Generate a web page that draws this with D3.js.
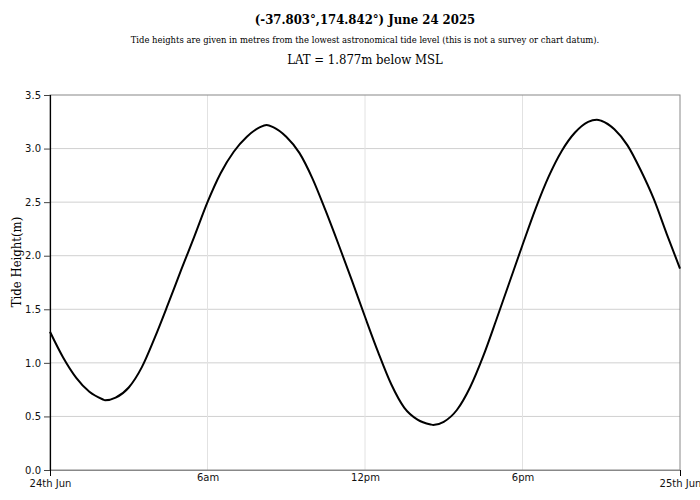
<!DOCTYPE html>
<html>
<head>
<meta charset="utf-8">
<script src="https://cdn.jsdelivr.net/npm/d3@7"></script>
<style>
  body { margin: 0; background: #fff; }
  svg { display: block; }
  .serif { font-family: 'DejaVu Serif Condensed', 'DejaVu Serif', serif; font-stretch: condensed; }
</style>
</head>
<body>
<svg id="chart"></svg>
<script>
const titleText = "(-37.803°,174.842°) June 24 2025";
const subtitleText = "Tide heights are given in metres from the lowest astronomical tide level (this is not a survey or chart datum).";
const latText = "LAT = 1.877m below MSL";

// hours after midnight, 24 June 2025
const hours = [
    0, 0.5, 1, 1.5, 2, 2.1, 2.5, 3, 3.5, 4, 4.5, 5, 5.5, 6, 6.5, 7, 7.5, 8, 8.25,
    8.5, 9, 9.5, 10, 10.5, 11, 11.5, 12, 12.5, 13, 13.5, 14, 14.5, 14.6,
    15, 15.5, 16, 16.5, 17, 17.5, 18, 18.5, 19, 19.5, 20, 20.5, 20.83,
    21, 21.5, 22, 22.5, 23, 23.5, 24
];
// tide height (m)
const heights = [
    1.29, 1.05, 0.86, 0.73, 0.66, 0.65, 0.675, 0.77, 0.96, 1.24, 1.55, 1.87, 2.18, 2.50, 2.77, 2.97, 3.11, 3.20, 3.22,
    3.20, 3.11, 2.96, 2.72, 2.42, 2.10, 1.77, 1.43, 1.10, 0.80, 0.58, 0.47, 0.425, 0.42,
    0.45, 0.56, 0.77, 1.06, 1.40, 1.75, 2.10, 2.44, 2.74, 2.98, 3.15, 3.25, 3.27,
    3.26, 3.18, 3.03, 2.80, 2.53, 2.20, 1.88
];

const yTicks = [0, 0.5, 1, 1.5, 2, 2.5, 3, 3.5];
const xTickHours = [0, 6, 12, 18, 24];
const xTickLabels = ["24th Jun", "6am", "12pm", "6pm", "25th Jun"];

const width = 700;
const height = 500;
const margin = { top: 95, right: 20, bottom: 30, left: 50 };
const innerW = width - margin.left - margin.right;
const innerH = height - margin.top - margin.bottom;

const day0 = new Date(2025, 5, 24, 0, 0, 0);
const toDate = (h) => new Date(day0.getTime() + h * 3600 * 1000);

const data = hours.map((h, i) => ({ t: toDate(h), v: heights[i] }));

const svg = d3.select("#chart")
    .attr("width", width)
    .attr("height", height);

const xScale = d3.scaleTime()
    .domain([toDate(0), toDate(24)])
    .range([margin.left, margin.left + innerW]);

const yScale = d3.scaleLinear()
    .domain([0, 3.5])
    .range([margin.top + innerH, margin.top]);

// titles, centred over the plot area
const cx = margin.left + innerW / 2;
svg.append("text")
    .attr("class", "serif")
    .attr("x", cx).attr("y", 24)
    .attr("text-anchor", "middle")
    .style("font-weight", "bold")
    .style("font-size", "13px")
    .text(titleText);

svg.append("text")
    .attr("class", "serif")
    .attr("x", cx).attr("y", 43)
    .attr("text-anchor", "middle")
    .style("font-size", "9.4px")
    .text(subtitleText);

svg.append("text")
    .attr("class", "serif")
    .attr("x", cx).attr("y", 64)
    .attr("text-anchor", "middle")
    .style("font-size", "13px")
    .text(latText);

// grid lines
svg.append("g")
    .selectAll("line")
    .data(yTicks.slice(1, -1))
    .enter()
    .append("line")
    .attr("x1", margin.left)
    .attr("x2", margin.left + innerW)
    .attr("y1", (d) => yScale(d))
    .attr("y2", (d) => yScale(d))
    .attr("stroke", "#d0d0d0")
    .attr("stroke-width", 1);

svg.append("g")
    .selectAll("line")
    .data(xTickHours.slice(1, -1))
    .enter()
    .append("line")
    .attr("x1", (d) => xScale(toDate(d)))
    .attr("x2", (d) => xScale(toDate(d)))
    .attr("y1", margin.top)
    .attr("y2", margin.top + innerH)
    .attr("stroke", "#e2e2e2")
    .attr("stroke-width", 1);

// plot border
svg.append("rect")
    .attr("x", margin.left)
    .attr("y", margin.top)
    .attr("width", innerW)
    .attr("height", innerH)
    .attr("fill", "none")
    .attr("stroke", "#888")
    .attr("stroke-width", 1);

// y axis
const yAxis = d3.axisLeft(yScale)
    .tickValues(yTicks)
    .tickFormat(d3.format(".1f"))
    .tickSize(6)
    .tickPadding(3);

const yAxisGroup = svg.append("g")
    .attr("transform", "translate(" + margin.left + ",0)")
    .call(yAxis);
yAxisGroup.select(".domain").attr("stroke", "#000").attr("stroke-width", 1.2);
yAxisGroup.selectAll(".tick line").attr("stroke", "#444");
yAxisGroup.selectAll(".tick text")
    .style("font-family", "'DejaVu Sans', sans-serif")
    .style("font-size", "10px")
    .attr("fill", "#111");

// x axis: day ticks long, hour ticks none
const xAxis = d3.axisBottom(xScale)
    .tickValues(xTickHours.map(toDate))
    .tickFormat((d, i) => xTickLabels[i])
    .tickSizeOuter(0)
    .tickSize(0)
    .tickPadding(4);

const xAxisGroup = svg.append("g")
    .attr("transform", "translate(0," + (margin.top + innerH) + ")")
    .call(xAxis);
xAxisGroup.select(".domain").attr("stroke", "#888");
xAxisGroup.selectAll(".tick text")
    .style("font-family", "'DejaVu Sans', sans-serif")
    .style("font-size", "10px")
    .attr("fill", "#111")
    .attr("y", (d, i) => (i === 0 || i === xTickLabels.length - 1) ? 10 : 4);
xAxisGroup.selectAll(".tick line")
    .attr("y2", (d, i) => (i === 0 || i === xTickLabels.length - 1) ? 6 : 0)
    .attr("stroke", "#000");

// y label
svg.append("text")
    .attr("class", "serif")
    .attr("transform", "translate(21,262) rotate(-90)")
    .attr("text-anchor", "middle")
    .style("font-size", "13px")
    .text("Tide Height(m)");

// tide line
const line = d3.line()
    .x((d) => xScale(d.t))
    .y((d) => yScale(d.v))
    .curve(d3.curveMonotoneX);

svg.append("path")
    .datum(data)
    .attr("fill", "none")
    .attr("stroke", "#000")
    .attr("stroke-width", 2)
    .attr("d", line);
</script>
</body>
</html>
